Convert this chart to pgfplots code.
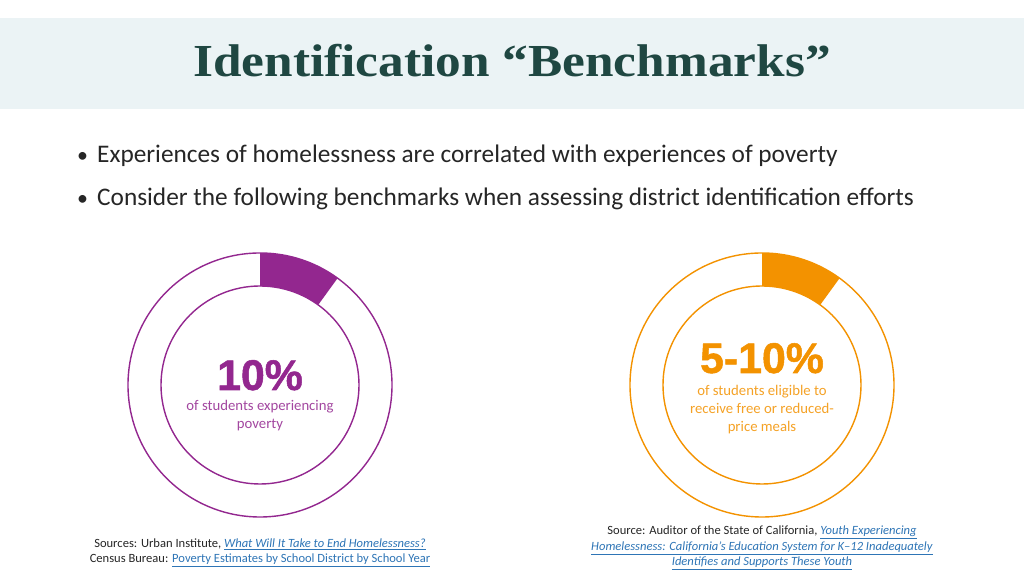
\documentclass[border=0pt]{standalone}
\usepackage{pgfplots}
\usepackage{pgfplotstable}
\pgfplotsset{compat=1.18}
\usepackage{fontspec}
\setmainfont{Carlito}
\newfontfamily\titlefont{Liberation Serif}
\newfontface\numfont[FakeBold=1.2]{Liberation Sans Bold}

\definecolor{band}{HTML}{EBF3F5}
\definecolor{titlecol}{HTML}{1F4742}
\definecolor{bodytext}{HTML}{262626}
\definecolor{povpurple}{HTML}{93278F}
\definecolor{mealorange}{HTML}{F39200}
\definecolor{linkblue}{HTML}{2E75B6}

% share of the ring that is filled, in percent
\pgfplotstableread{
label   share
poverty 10
meals   10
}\benchmarks

\pgfplotsset{donut/.style={
    x=1bp, y=1bp,
    xmin=-140, xmax=140, ymin=-140, ymax=140,
    hide axis, clip=false, anchor=center}}

\newcommand{\link}[1]{{\color{linkblue}\underline{\textit{#1}}}}
\newcommand{\plainlink}[1]{{\color{linkblue}\underline{#1}}}

\begin{document}
\begin{tikzpicture}[x=1bp, y=1bp]
\fill[white] (0,0) rectangle (1024,576);
\fill[band] (0,467) rectangle (1024,558);

% left donut
\pgfplotstablegetelem{0}{share}\of\benchmarks
\pgfmathsetmacro\angP{90-3.6*\pgfplotsretval}
\begin{axis}[donut, at={(260,191)}]
\addplot[draw=none] coordinates {(0,0)};
\fill[povpurple] (axis cs:0,132) arc[start angle=90, end angle=\angP, radius=132bp]
    -- ++(\angP:-33bp) arc[start angle=\angP, end angle=90, radius=99bp] -- cycle;
\draw[povpurple, line width=1.4bp] (axis cs:0,0) circle[radius=132bp];
\draw[povpurple, line width=1.4bp] (axis cs:0,0) circle[radius=99bp];
\end{axis}

% right donut
\pgfplotstablegetelem{1}{share}\of\benchmarks
\pgfmathsetmacro\angM{90-3.6*\pgfplotsretval}
\begin{axis}[donut, at={(762,191)}]
\addplot[draw=none] coordinates {(0,0)};
\fill[mealorange] (axis cs:0,132) arc[start angle=90, end angle=\angM, radius=132bp]
    -- ++(\angM:-33bp) arc[start angle=\angM, end angle=90, radius=99bp] -- cycle;
\draw[mealorange, line width=1.4bp] (axis cs:0,0) circle[radius=132bp];
\draw[mealorange, line width=1.4bp] (axis cs:0,0) circle[radius=99bp];
\end{axis}

% title
\node[anchor=base, text=titlecol, inner sep=0, xscale=1.12,
      font=\titlefont\bfseries\fontsize{46}{54}\selectfont] at (512,499)
      {Identification “Benchmarks”};

% bullets
\begin{scope}[every node/.style={anchor=base west, inner sep=0, text=bodytext,
      font=\fontsize{25.4}{30}\selectfont}]
\node at (77,413) {\fontsize{22}{26}\selectfont•};
\node at (97,413) {Experiences of homelessness are correlated with experiences of poverty};
\node at (77,370) {\fontsize{22}{26}\selectfont•};
\node at (97,370) {Consider the following benchmarks when assessing district identification efforts};
\end{scope}

% centre texts
\node[anchor=base, inner sep=0, text=povpurple, font=\numfont\fontsize{43}{48}\selectfont]
    at (260,186) {10\%};
\begin{scope}[every node/.style={anchor=base, inner sep=0, text=povpurple!85,
      font=\fontsize{14.8}{18}\selectfont}]
\node at (260,165) {of students experiencing};
\node at (260,147) {poverty};
\end{scope}

\node[anchor=base, inner sep=0, text=mealorange, font=\numfont\fontsize{43}{48}\selectfont]
    at (762,203) {5-10\%};
\begin{scope}[every node/.style={anchor=base, inner sep=0, text=mealorange!85,
      font=\fontsize{14.8}{18}\selectfont}]
\node at (762,180) {of students eligible to};
\node at (762,162) {receive free or reduced-};
\node at (762,144) {price meals};
\end{scope}

% sources
\begin{scope}[every node/.style={anchor=base, inner sep=0, text=bodytext,
      font=\fontsize{12.6}{15}\selectfont}]
\node at (260,28) {Sources: Urban Institute, \link{What Will It Take to End Homelessness?}};
\node at (260,13) {Census Bureau: \plainlink{Poverty Estimates by School District by School Year}};
\node at (762,41) {Source: Auditor of the State of California, \link{Youth Experiencing}};
\node at (762,25) {\link{Homelessness: California’s Education System for K–12 Inadequately}};
\node at (762,10) {\link{Identifies and Supports These Youth}};
\end{scope}
\end{tikzpicture}
\end{document}
